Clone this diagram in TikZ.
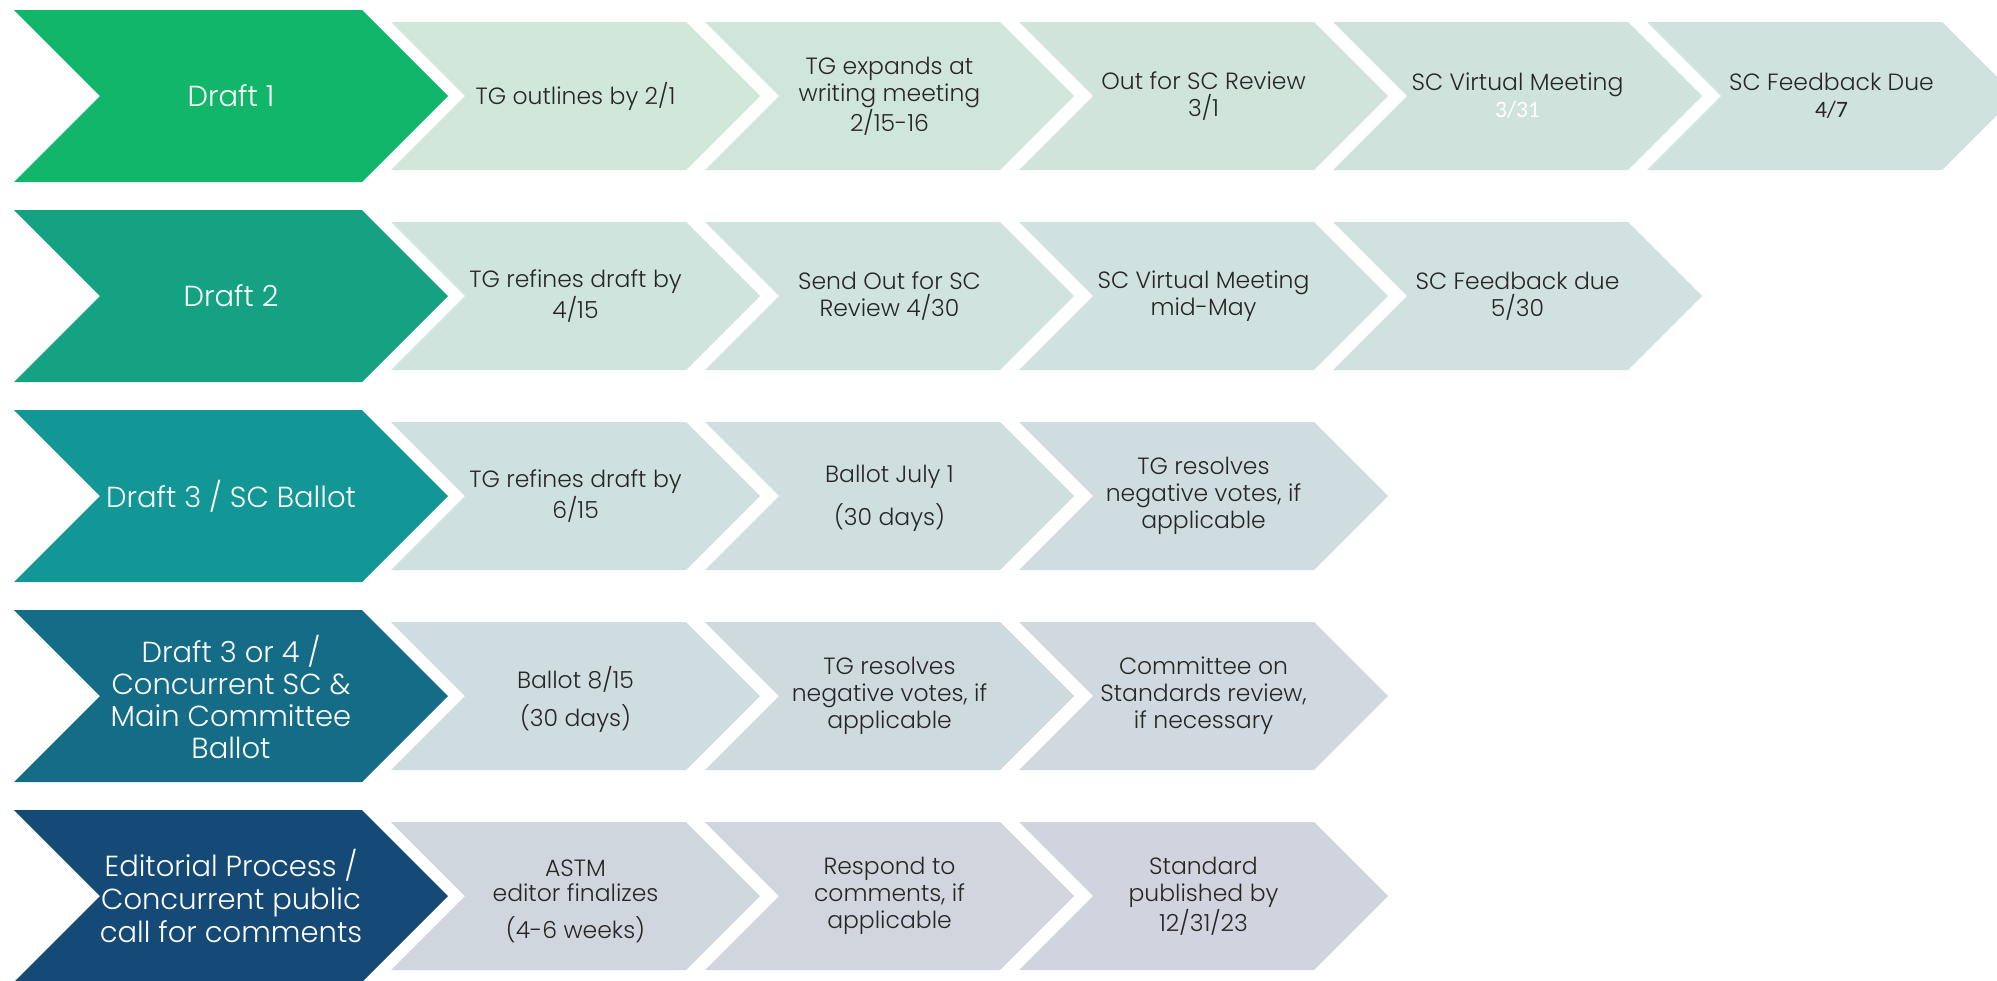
\documentclass[tikz,border=0pt]{standalone}
\usepackage{fontspec}
\setmainfont{Poppins Light}
\newfontfamily\calib{Carlito}
\definecolor{txt}{RGB}{38,38,38}
\definecolor{b1}{RGB}{17,182,106}
\definecolor{b2}{RGB}{20,162,130}
\definecolor{b3}{RGB}{18,150,150}
\definecolor{b4}{RGB}{20,108,134}
\definecolor{b5}{RGB}{22,74,118}
\definecolor{c11}{RGB}{209,231,218}
\definecolor{c12}{RGB}{208,229,219}
\definecolor{c13}{RGB}{208,228,220}
\definecolor{c14}{RGB}{207,227,220}
\definecolor{c15}{RGB}{207,226,221}
\definecolor{c21}{RGB}{208,228,222}
\definecolor{c22}{RGB}{208,227,223}
\definecolor{c23}{RGB}{208,226,223}
\definecolor{c24}{RGB}{208,225,224}
\definecolor{c31}{RGB}{207,224,224}
\definecolor{c32}{RGB}{207,223,224}
\definecolor{c33}{RGB}{207,221,224}
\definecolor{c41}{RGB}{207,220,224}
\definecolor{c42}{RGB}{207,218,223}
\definecolor{c43}{RGB}{207,217,223}
\definecolor{c51}{RGB}{208,214,222}
\definecolor{c52}{RGB}{208,213,222}
\definecolor{c53}{RGB}{209,212,222}
\tikzset{
  pics/bigchev/.style={code={\fill[#1] (0,-86) -- (86,0) -- (0,86) -- (348,86) -- (434,0) -- (348,-86) -- cycle;}},
  pics/smallchev/.style={code={\fill[#1] (0,-74) -- (74,0) -- (0,74) -- (295,74) -- (369,0) -- (295,-74) -- cycle;}},
  stxt/.style={text=txt, align=center, inner sep=0pt, font=\fontsize{11.75pt}{13.5pt}\selectfont},
  btxt/.style={text=white, align=center, inner sep=0pt, font=\fontsize{14.5pt}{16.5pt}\selectfont}
}
\begin{document}
\begin{tikzpicture}[x=0.5pt,y=-0.5pt]
\useasboundingbox (0,0) rectangle (1997,980);
\clip (0,0) rectangle (1997,980);
% Row 1
\pic at (14,96) {bigchev=b1};
\pic at (391,96) {smallchev=c11};
\pic at (705,96) {smallchev=c12};
\pic at (1019,96) {smallchev=c13};
\pic at (1333,96) {smallchev=c14};
\pic at (1647,96) {smallchev=c15};
\node[btxt] (d1) at (231,96) {Draft 1};
\node[stxt] (t11) at (575.5,96) {TG outlines by 2/1};
\node[stxt] (t12) at (889.5,96) {TG expands at\\writing meeting\\2/15-16};
\node[stxt] (t13) at (1203.5,96) {Out for SC Review\\3/1};
\node[stxt] (t14) at (1517.5,96) {SC Virtual Meeting\\{\calib\color{white}3/31}};
\node[stxt] (t15) at (1831.5,96) {SC Feedback Due\\{\calib 4/7}};
% Row 2
\pic at (14,296) {bigchev=b2};
\pic at (391,296) {smallchev=c21};
\pic at (705,296) {smallchev=c22};
\pic at (1019,296) {smallchev=c23};
\pic at (1333,296) {smallchev=c24};
\node[btxt] (d2) at (231,296) {Draft 2};
\node[stxt] (t21) at (575.5,296) {TG refines draft by\\4/15};
\node[stxt] (t22) at (889.5,296) {Send Out for SC\\Review 4/30};
\node[stxt] (t23) at (1203.5,296) {SC Virtual Meeting\\mid-May};
\node[stxt] (t24) at (1517.5,296) {SC Feedback due\\5/30};
% Row 3
\pic at (14,496) {bigchev=b3};
\pic at (391,496) {smallchev=c31};
\pic at (705,496) {smallchev=c32};
\pic at (1019,496) {smallchev=c33};
\node[btxt] (d3) at (231,496) {Draft 3 / SC Ballot};
\node[stxt] (t31) at (575.5,496) {TG refines draft by\\6/15};
\node[stxt] (t32) at (889.5,498) {Ballot July 1\\[6.5pt](30 days)};
\node[stxt] (t33) at (1203.5,496) {TG resolves\\negative votes, if\\applicable};
% Row 4
\pic at (14,696) {bigchev=b4};
\pic at (391,696) {smallchev=c41};
\pic at (705,696) {smallchev=c42};
\pic at (1019,696) {smallchev=c43};
\node[btxt, font=\fontsize{14.5pt}{16pt}\selectfont] (d4) at (231,697) {Draft 3 or 4 /\\Concurrent SC \&\\Main Committee\\Ballot};
\node[stxt] (t41) at (575.5,699) {Ballot 8/15\\[5.5pt](30 days)};
\node[stxt] (t42) at (889.5,696) {TG resolves\\negative votes, if\\applicable};
\node[stxt] (t43) at (1203.5,696) {Committee on\\Standards review,\\if necessary};
% Row 5
\pic at (14,896) {bigchev=b5};
\pic at (391,896) {smallchev=c51};
\pic at (705,896) {smallchev=c52};
\pic at (1019,896) {smallchev=c53};
\node[btxt] (d5) at (231,896) {Editorial Process /\\Concurrent public\\call for comments};
\node[stxt] (t51) at (575.5,901) {ASTM\\[-1pt]editor finalizes\\[5pt](4-6 weeks)};
\node[stxt] (t52) at (889.5,896) {Respond to\\comments, if\\applicable};
\node[stxt] (t53) at (1203.5,896) {Standard\\published by\\12/31/23};
\end{tikzpicture}
\end{document}
